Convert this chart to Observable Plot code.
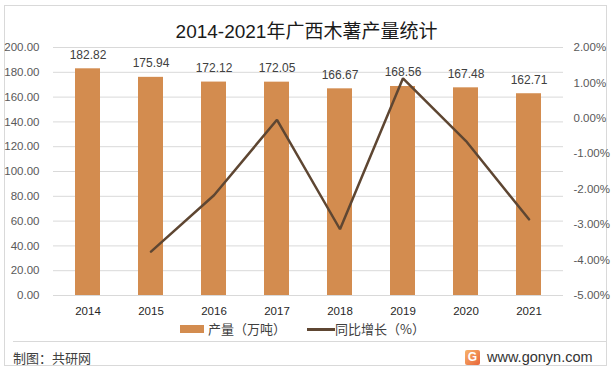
<!DOCTYPE html>
<html><head><meta charset="utf-8">
<script src="https://cdn.jsdelivr.net/npm/d3@7"></script>
<script src="https://cdn.jsdelivr.net/npm/@observablehq/plot@0.6"></script>
<style>
body{margin:0;background:#fff;}
#wrap{position:relative;width:613px;height:371px;background:#fff;overflow:hidden;font-family:"Liberation Sans","Noto Sans CJK SC",sans-serif;}
#frame{position:absolute;left:4px;top:5px;width:603px;height:361px;border:1px solid #D9D9D9;box-sizing:border-box;}
#title{position:absolute;left:0;width:613px;top:20px;text-align:center;font-size:19px;color:#1a1a1a;font-family:"Liberation Sans","Noto Sans CJK SC",sans-serif;line-height:24px;}
#chart{position:absolute;left:0;top:0;}
.leg{position:absolute;top:320px;font-size:13px;color:#404040;line-height:18px;font-family:"Noto Sans CJK SC",sans-serif;}
#sep{position:absolute;left:13px;top:341px;width:594px;height:1px;background:#D9D9D9;}
#src{position:absolute;left:13px;top:349px;font-size:13px;color:#404040;line-height:18px;font-family:"Noto Sans CJK SC",sans-serif;}
#site{position:absolute;left:487px;top:347px;font-size:14.5px;color:#333;line-height:20px;font-family:"Liberation Sans",sans-serif;}
#logo{position:absolute;left:465px;top:350px;width:15px;height:15px;background:linear-gradient(135deg,#F7B36B,#E8663A);color:#fff;font:bold 12px "Liberation Sans",sans-serif;text-align:center;line-height:15px;border-radius:2px;}
</style></head>
<body>
<div id="wrap">
  <div id="frame"></div>
  <div id="chart"></div>
  <div id="title">2014-2021年广西木薯产量统计</div>
  <div class="leg" style="left:180px;"><span style="display:inline-block;width:24px;height:8px;background:#D38C4F;vertical-align:middle;margin-right:4px;position:relative;top:-1px;"></span>产量（万吨）</div>
  <div class="leg" style="left:307px;"><span style="display:inline-block;width:28px;height:2.5px;background:#5E4632;vertical-align:middle;position:relative;top:-1px;"></span>同比增长（%）</div>
  <div id="sep"></div>
  <div id="src">制图：共研网</div>
  <div id="logo">G</div>
  <div id="site">www.gonyn.com</div>
</div>
<script>
const years = ["2014","2015","2016","2017","2018","2019","2020","2021"];
const output = [182.82,175.94,172.12,172.05,166.67,168.56,167.48,162.71];
const growthYears = ["2015","2016","2017","2018","2019","2020","2021"];
const growth = [-3.76,-2.17,-0.04,-3.13,1.13,-0.64,-2.85];
const leftTicks = [0,20,40,60,80,100,120,140,160,180,200];
const rightTicks = [-5,-4,-3,-2,-1,0,1,2];

const pMin = -5, pMax = 2, yMax = 200;
const toY = p => (p - pMin) / (pMax - pMin) * yMax;

const bars = years.map((y,i)=>({year:y, v:output[i]}));
const line = growthYears.map((y,i)=>({year:y, p:growth[i], yv:toY(growth[i])}));

const chart = Plot.plot({
  width: 613,
  height: 320,
  marginTop: 47,
  marginBottom: 25,
  marginLeft: 53,
  marginRight: 50,
  style: {fontFamily: '"Liberation Sans", sans-serif', background: "transparent"},
  x: {domain: years, type: "band", paddingInner: 0.607, paddingOuter: 0.3135, axis: null, label: null},
  y: {domain: [0, yMax], axis: null, label: null},
  marks: [
    Plot.ruleY(leftTicks, {stroke: "#D9D9D9", strokeWidth: 1}),
    Plot.barY(bars, {x: "year", y: "v", fill: "#D38C4F"}),
    Plot.text(bars, {x: "year", y: "v", text: d => d.v.toFixed(2), dy: -14, fontSize: 12, fill: "#404040"}),
    Plot.line(line, {x: "year", y: "yv", stroke: "#5E4632", strokeWidth: 2.5, strokeLinejoin: "miter"}),
    Plot.axisY(leftTicks, {anchor: "left", tickSize: 0, tickPadding: 14, label: null, tickFormat: d => d.toFixed(2), fontSize: 11.5, color: "#595959"}),
    Plot.axisY(rightTicks.map(toY), {anchor: "right", tickSize: 0, tickPadding: 10, label: null, tickFormat: v => (v / yMax * (pMax - pMin) + pMin).toFixed(2) + "%", fontSize: 11.5, color: "#595959"}),
    Plot.axisX({tickSize: 0, tickPadding: 11, label: null, fontSize: 11.5, color: "#262626"})
  ]
});
document.getElementById("chart").appendChild(chart);
</script>
</body></html>
